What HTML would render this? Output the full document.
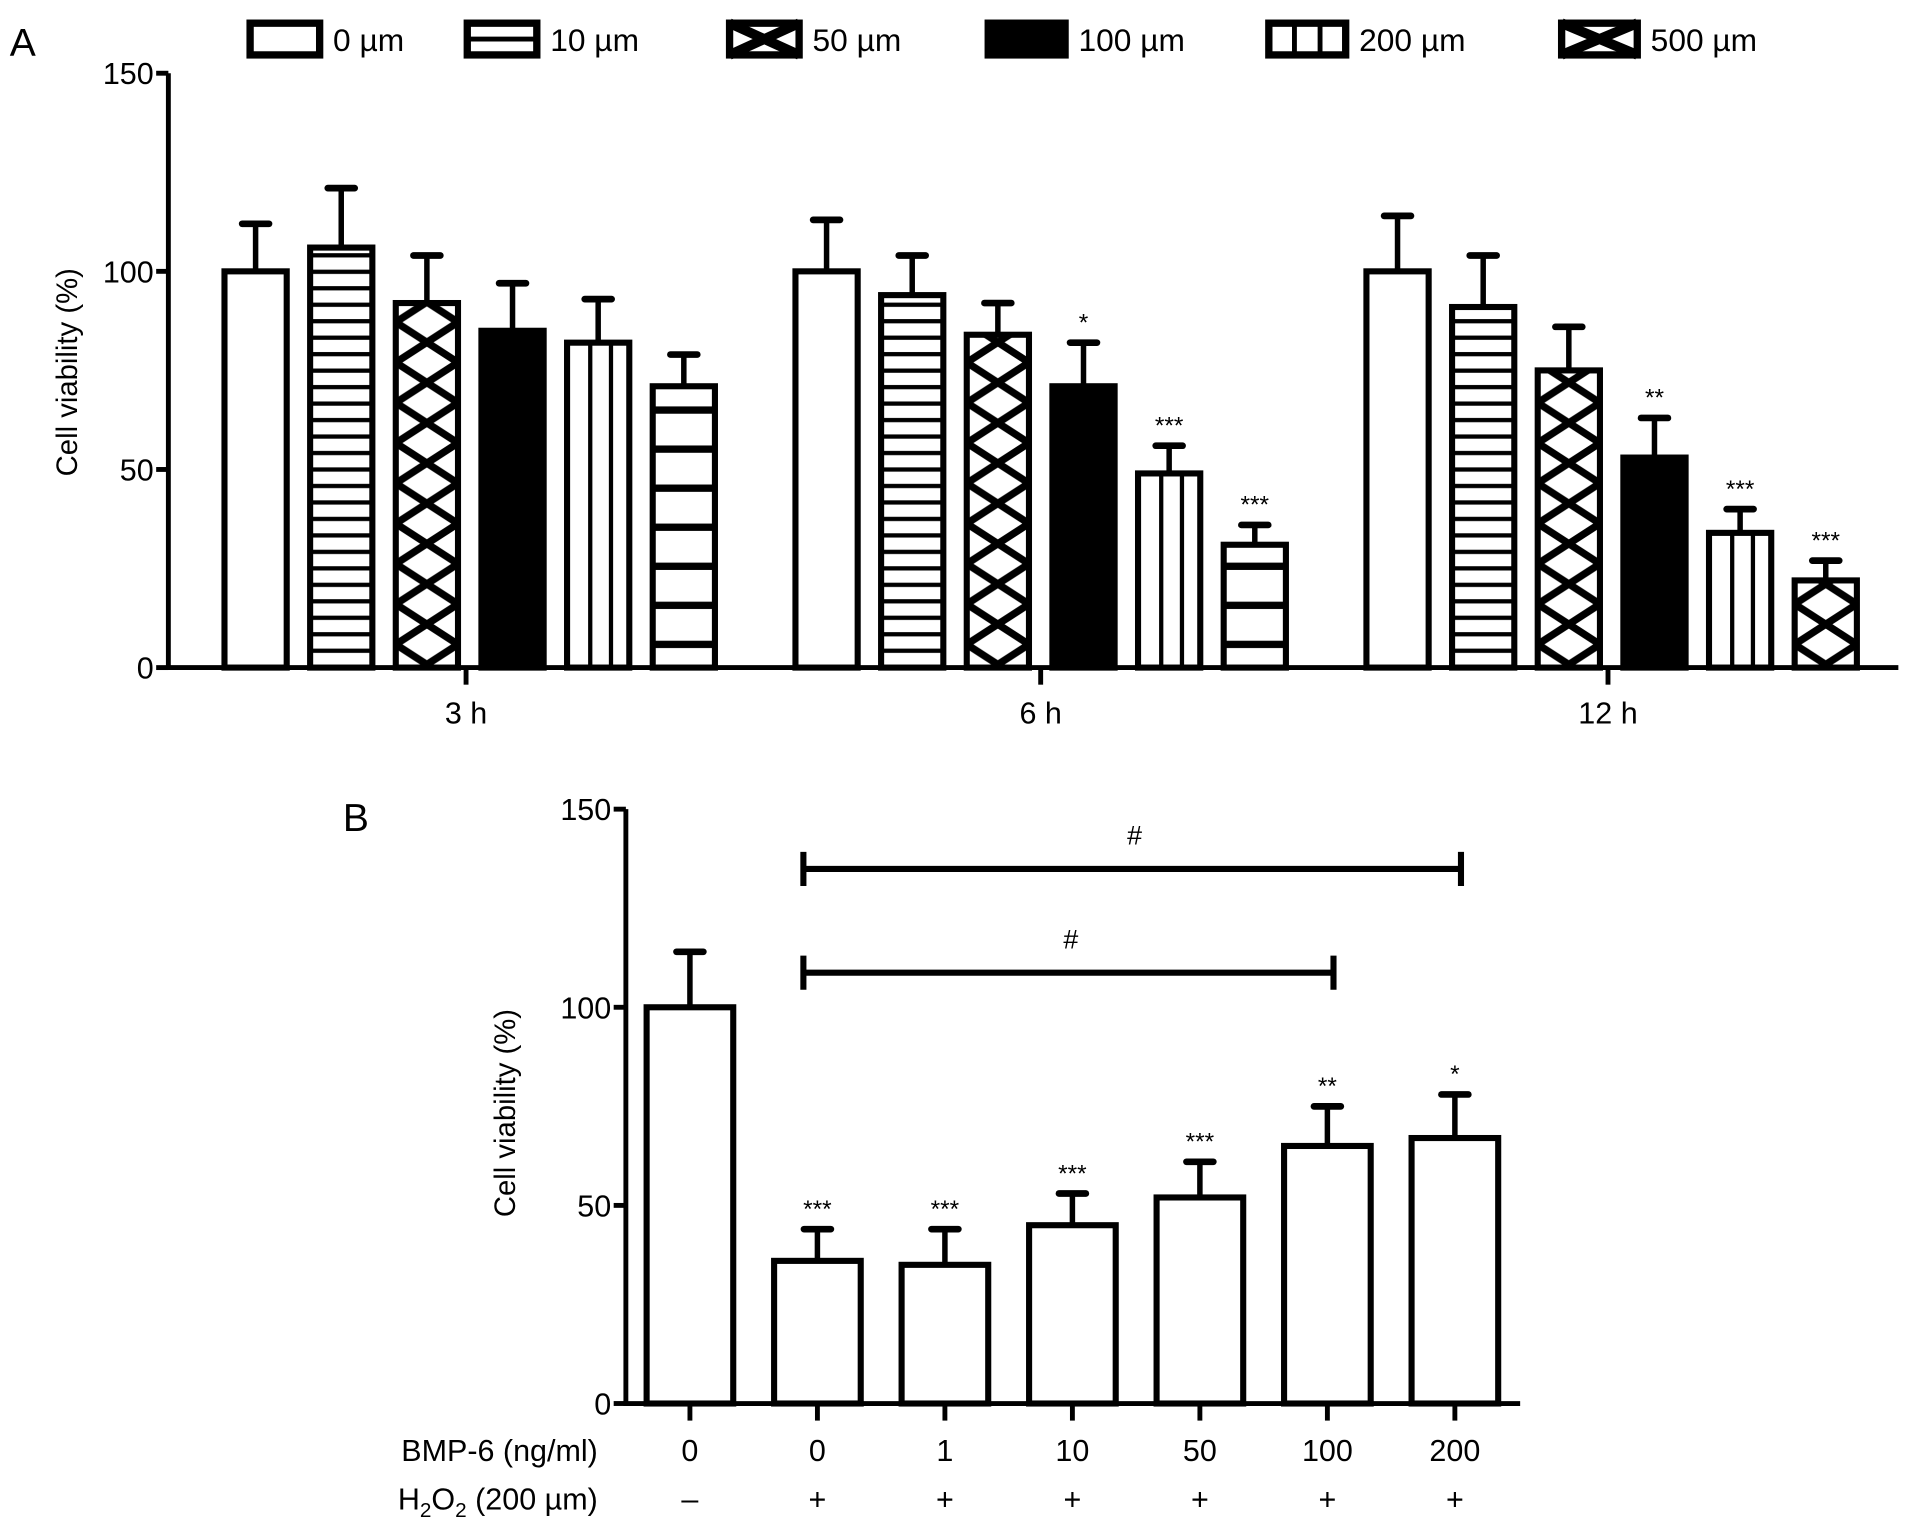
<!DOCTYPE html>
<html><head><meta charset="utf-8"><style>
html,body{margin:0;padding:0;background:#fff}
svg{display:block;font-family:"Liberation Sans",Arial,sans-serif}
</style></head><body>
<svg id="chart" width="1913" height="1528" viewBox="0 0 1568 1252" preserveAspectRatio="none" xmlns="http://www.w3.org/2000/svg">
<defs>
<pattern id="p-hlines" patternUnits="userSpaceOnUse" width="10" height="13.5"><rect width="10" height="13.5" fill="#fff"/><line x1="0" y1="6.7" x2="10" y2="6.7" stroke="#000" stroke-width="3.5"/></pattern>
<pattern id="p-bands" patternUnits="userSpaceOnUse" width="10" height="32"><rect width="10" height="32" fill="#fff"/><line x1="0" y1="16" x2="10" y2="16" stroke="#000" stroke-width="6"/></pattern>
</defs>
<g id="panelA"></g>
<g id="panelB"></g>
</svg>
<script>
// ---- Panel A data ----
const aGroups = ["3 h", "6 h", "12 h"];
const aSeries = ["0 µm", "10 µm", "50 µm", "100 µm", "200 µm", "500 µm"];
const aVal3 = [100, 106, 92, 85, 82, 71];
const aErr3 = [112, 121, 104, 97, 93, 79];
const aVal6 = [100, 94, 84, 71, 49, 31];
const aErr6 = [113, 104, 92, 82, 56, 36];
const aVal12 = [100, 91, 75, 53, 34, 22];
const aErr12 = [114, 104, 86, 63, 40, 27];
const aStars3 = ["", "", "", "", "", ""];
const aStars6 = ["", "", "", "*", "***", "***"];
const aStars12 = ["", "", "", "**", "***", "***"];
const aTicks = [0, 50, 100, 150];
// ---- Panel B data ----
const bBmp = ["0", "0", "1", "10", "50", "100", "200"];
const bH2o2 = ["–", "+", "+", "+", "+", "+", "+"];
const bVal = [100, 36, 35, 45, 52, 65, 67];
const bErr = [114, 44, 44, 53, 61, 75, 78];
const bStars = ["", "***", "***", "***", "***", "**", "*"];
const bTicks = [0, 50, 100, 150];

const NS = "http://www.w3.org/2000/svg";
function mk(parent, tag, attrs, text) {
  const e = document.createElementNS(NS, tag);
  for (const k in attrs) e.setAttribute(k, attrs[k]);
  if (text !== undefined) e.textContent = text;
  parent.appendChild(e);
  return e;
}
const defs = document.querySelector("defs");
let pid = 0;
function diamondPattern(x, w) {
  const id = "pd" + (pid++);
  const p = mk(defs, "pattern", {id: id, patternUnits: "userSpaceOnUse", x: x, y: 0, width: w, height: 33});
  mk(p, "rect", {width: w, height: 33, fill: "#fff"});
  mk(p, "path", {d: `M0,0 L${w},33 M${w},0 L0,33`, stroke: "#000", "stroke-width": 6, fill: "none"});
  return "url(#" + id + ")";
}

// ---------- Panel A ----------
const A = document.getElementById("panelA");
const aY0 = 547, aPer = (547 - 60) / 150, aAxisX = 138;
const ay = v => aY0 - v * aPer;
const aGroupStart = [184, 652, 1120];
const aStep = 70.2, aW = 51;
const aVals = [aVal3, aVal6, aVal12], aErrs = [aErr3, aErr6, aErr12], aStars = [aStars3, aStars6, aStars12];
const aGroupCenter = [382, 853, 1318];

let t = mk(A, "text", {x: 8, y: 46, "font-size": 32}, "A");



// y axis
let ax = mk(A, "line", {x1: aAxisX, y1: ay(150), x2: aAxisX, y2: aY0 + 2, stroke: "#000", "stroke-width": 4});


aTicks.forEach(v => {
  const l = mk(A, "line", {x1: aAxisX - 10, y1: ay(v), x2: aAxisX, y2: ay(v), stroke: "#000", "stroke-width": 4});
  
  
  const tx = mk(A, "text", {x: aAxisX - 12, y: ay(v) + 9, "font-size": 25, "text-anchor": "end"}, String(v));
  
  
});
let yt = mk(A, "text", {x: 0, y: 0, "font-size": 24, "text-anchor": "middle", transform: "translate(63,305) rotate(-90)"}, "Cell viability (%)");



function drawBar(parent, x, w, v, e, fill, star, y, kind) {
  const g = mk(parent, "g", {});
  
  
  const top = y(v), bot = y(0);
  const cx = x + w / 2;
  mk(g, "line", {x1: cx, y1: y(e), x2: cx, y2: top, stroke: "#000", "stroke-width": 4.5});
  mk(g, "line", {x1: cx - 11, y1: y(e), x2: cx + 11, y2: y(e), stroke: "#000", "stroke-width": 5.5, "stroke-linecap": "round"});
  mk(g, "rect", {x: x, y: top, width: w, height: bot - top, fill: fill, stroke: "#000", "stroke-width": 5});
  if (kind === "vlines") {
    mk(g, "line", {x1: x + w / 3 + 2, y1: top, x2: x + w / 3 + 2, y2: bot, stroke: "#000", "stroke-width": 3.5});
    mk(g, "line", {x1: x + 2 * w / 3 + 2, y1: top, x2: x + 2 * w / 3 + 2, y2: bot, stroke: "#000", "stroke-width": 3.5});
  }
  if (star) {
    const s = mk(parent, "text", {x: cx, y: y(e) - 10, "font-size": 20, "text-anchor": "middle"}, star);
    
    
  }
}

aGroups.forEach((gname, gi) => {
  aSeries.forEach((s, si) => {
    const x = aGroupStart[gi] + si * aStep;
    let fill = "#fff", kind = "";
    if (si === 1) fill = "url(#p-hlines)";
    if (si === 2) fill = diamondPattern(x, aW);
    if (si === 3) fill = "#000";
    if (si === 4) kind = "vlines";
    if (si === 5) fill = gi === 2 ? diamondPattern(x, aW) : "url(#p-bands)";
    drawBar(A, x, aW, aVals[gi][si], aErrs[gi][si], fill, aStars[gi][si], ay, kind);
  });
  const tk = mk(A, "line", {x1: aGroupCenter[gi], y1: aY0, x2: aGroupCenter[gi], y2: aY0 + 14, stroke: "#000", "stroke-width": 4});
  
  
  const lb = mk(A, "text", {x: aGroupCenter[gi], y: 593, "font-size": 25, "text-anchor": "middle"}, gname);
  
  
});
let xa = mk(A, "line", {x1: aAxisX - 2, y1: aY0, x2: 1556, y2: aY0, stroke: "#000", "stroke-width": 4});



// legend
const legBox = [205, 383, 598, 810, 1040, 1280];
const legW = [57, 57, 57, 63, 63, 62];
aSeries.forEach((s, si) => {
  const g = mk(A, "g", {});
  
  
  const x = legBox[si], w = legW[si];
  let fill = "#fff";
  if (si === 3) fill = "#000";
  mk(g, "rect", {x: x, y: 19, width: w, height: 26, fill: fill, stroke: "#000", "stroke-width": 6});
  if (si === 1) mk(g, "line", {x1: x, y1: 32, x2: x + w, y2: 32, stroke: "#000", "stroke-width": 4});
  if (si === 4) { mk(g, "line", {x1: x + w/3, y1: 19, x2: x + w/3, y2: 45, stroke: "#000", "stroke-width": 4}); mk(g, "line", {x1: x + 2*w/3, y1: 19, x2: x + 2*w/3, y2: 45, stroke: "#000", "stroke-width": 4}); }
  if (si === 2 || si === 5) mk(g, "path", {d: `M${x},19 L${x+w},45 M${x+w},19 L${x},45`, stroke: "#000", "stroke-width": 8});
  mk(g, "text", {x: x + w + 11, y: 42, "font-size": 26}, s);
});

// ---------- Panel B ----------
const B = document.getElementById("panelB");
const bY0 = 1150, bPer = (1150 - 663) / 150, bAxisX = 513;
const by = v => bY0 - v * bPer;
const bStart = 530, bStep = 104.5, bW = 71;
const bx = i => bStart + i * bStep;
const bc = i => bx(i) + bW / 2;

t = mk(B, "text", {x: 281, y: 681, "font-size": 32}, "B");


ax = mk(B, "line", {x1: bAxisX, y1: by(150), x2: bAxisX, y2: bY0 + 2, stroke: "#000", "stroke-width": 4});


bTicks.forEach(v => {
  const l = mk(B, "line", {x1: bAxisX - 10, y1: by(v), x2: bAxisX, y2: by(v), stroke: "#000", "stroke-width": 4});
  
  
  const tx = mk(B, "text", {x: bAxisX - 12, y: by(v) + 9, "font-size": 25, "text-anchor": "end"}, String(v));
  
  
});
yt = mk(B, "text", {x: 0, y: 0, "font-size": 24, "text-anchor": "middle", transform: "translate(422,912) rotate(-90)"}, "Cell viability (%)");



bVal.forEach((v, i) => {
  drawBar(B, bx(i), bW, v, bErr[i], "#fff", bStars[i], by, "");
  const tk = mk(B, "line", {x1: bc(i), y1: bY0, x2: bc(i), y2: bY0 + 14, stroke: "#000", "stroke-width": 4});
  
  
  const l1 = mk(B, "text", {x: bc(i), y: 1197, "font-size": 25, "text-anchor": "middle"}, bBmp[i]);
  
  
  const l2 = mk(B, "text", {x: bc(i), y: 1237, "font-size": 25, "text-anchor": "middle"}, bH2o2[i]);
  
  
});
xa = mk(B, "line", {x1: bAxisX - 2, y1: bY0, x2: 1246, y2: bY0, stroke: "#000", "stroke-width": 4});



let r1 = mk(B, "text", {x: 490, y: 1197, "font-size": 25, "text-anchor": "end"}, "BMP-6 (ng/ml)");


let r2 = mk(B, "text", {x: 490, y: 1237, "font-size": 25, "text-anchor": "end"});


r2.innerHTML = 'H<tspan font-size="17" dy="6">2</tspan><tspan dy="-6">O</tspan><tspan font-size="17" dy="6">2</tspan><tspan dy="-6"> (200 µm)</tspan>';

// brackets
const brFrom = [1, 1], brTo = [6, 5], brY = [712, 797];
brFrom.forEach((f, k) => {
  const g = mk(B, "g", {});
  
  
  const x1 = bx(f) + 24, x2 = bc(brTo[k]) + 5, y = brY[k];
  mk(g, "line", {x1: x1, y1: y, x2: x2, y2: y, stroke: "#000", "stroke-width": 5});
  mk(g, "line", {x1: x1, y1: y - 14, x2: x1, y2: y + 14, stroke: "#000", "stroke-width": 5});
  mk(g, "line", {x1: x2, y1: y - 14, x2: x2, y2: y + 14, stroke: "#000", "stroke-width": 5});
  mk(g, "text", {x: (x1 + x2) / 2 + 2, y: y - 20, "font-size": 22, "text-anchor": "middle"}, "#");
});
</script>
</body></html>
